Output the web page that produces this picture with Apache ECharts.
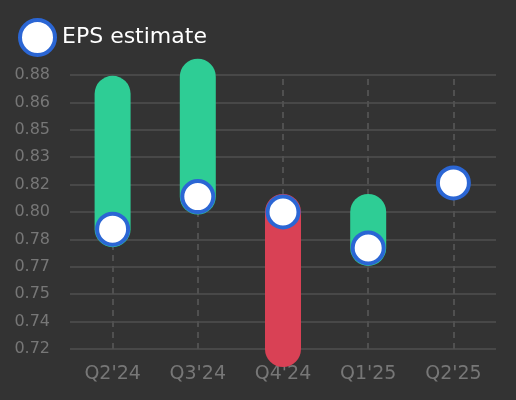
<!DOCTYPE html>
<html>
<head>
<meta charset="utf-8">
<script src="https://cdn.jsdelivr.net/npm/echarts@6/dist/echarts.min.js"></script>
<style>
html,body{margin:0;padding:0;background:#333333;}
#chart{width:516px;height:400px;}
</style>
</head>
<body>
<div id="chart"></div>
<script>
/* ---------- data ---------- */
const quarters = ["Q2'24","Q3'24","Q4'24","Q1'25","Q2'25"];
const estimate = [0.79, 0.809, 0.80, 0.779, 0.817];
const actual   = [0.869, 0.879, 0.72, 0.80, null];
const yTicks   = {min:0.72, max:0.88, step:0.016};

/* ---------- colours ---------- */
const GREEN='#2ecd95', RED='#d94155', BLUE='#2b66d4';

const chart = echarts.init(document.getElementById('chart'));

// estimate -> actual, one thick round-capped stroke per quarter
const rangeData = quarters.map((q,i)=>[i, estimate[i], actual[i]]);

chart.setOption({
  backgroundColor:'#333333',
  textStyle:{fontFamily:'DejaVu Sans'},
  legend:{
    left:18, top:18, padding:0,
    itemWidth:35, itemHeight:35,
    data:['EPS estimate'],
    itemStyle:{color:'#ffffff', borderColor:BLUE, borderWidth:4},
    textStyle:{color:'#ffffff', fontSize:22, padding:[4,0,0,2]}
  },
  grid:{left:70, right:20, top:75, bottom:51},
  xAxis:{
    type:'category',
    data:quarters,
    axisLine:{show:false},
    axisTick:{show:true, alignWithLabel:true, inside:true, length:274,
              lineStyle:{color:'#505050', type:[6,5], width:2}},
    axisLabel:{color:'#777777', fontSize:19, margin:16},
    splitLine:{show:false}
  },
  yAxis:{
    type:'value',
    min:yTicks.min, max:yTicks.max, interval:yTicks.step,
    axisLine:{show:false}, axisTick:{show:false},
    axisLabel:{color:'#777777', fontSize:16, margin:20,
               formatter:v=>v.toFixed(2)},
    splitLine:{lineStyle:{color:'#484848', width:2}}
  },
  series:[
    {
      type:'custom',
      name:'range',
      z:2,
      data:rangeData,
      renderItem:(params, api)=>{
        const a = api.value(2);
        if(a==null || isNaN(a)) return;
        const e = api.value(1);
        const p1 = api.coord([api.value(0), e]);
        const p2 = api.coord([api.value(0), a]);
        return {
          type:'line',
          shape:{x1:p1[0], y1:p1[1], x2:p2[0], y2:p2[1]},
          style:{stroke: a>=e? GREEN: RED, lineWidth:36, lineCap:'round'}
        };
      }
    },
    {
      type:'scatter',
      name:'EPS estimate',
      z:3,
      data:estimate,
      symbol:'circle',
      symbolSize:31,
      itemStyle:{color:'#ffffff', borderColor:BLUE, borderWidth:4, opacity:1}
    }
  ]
});
</script>
</body>
</html>
